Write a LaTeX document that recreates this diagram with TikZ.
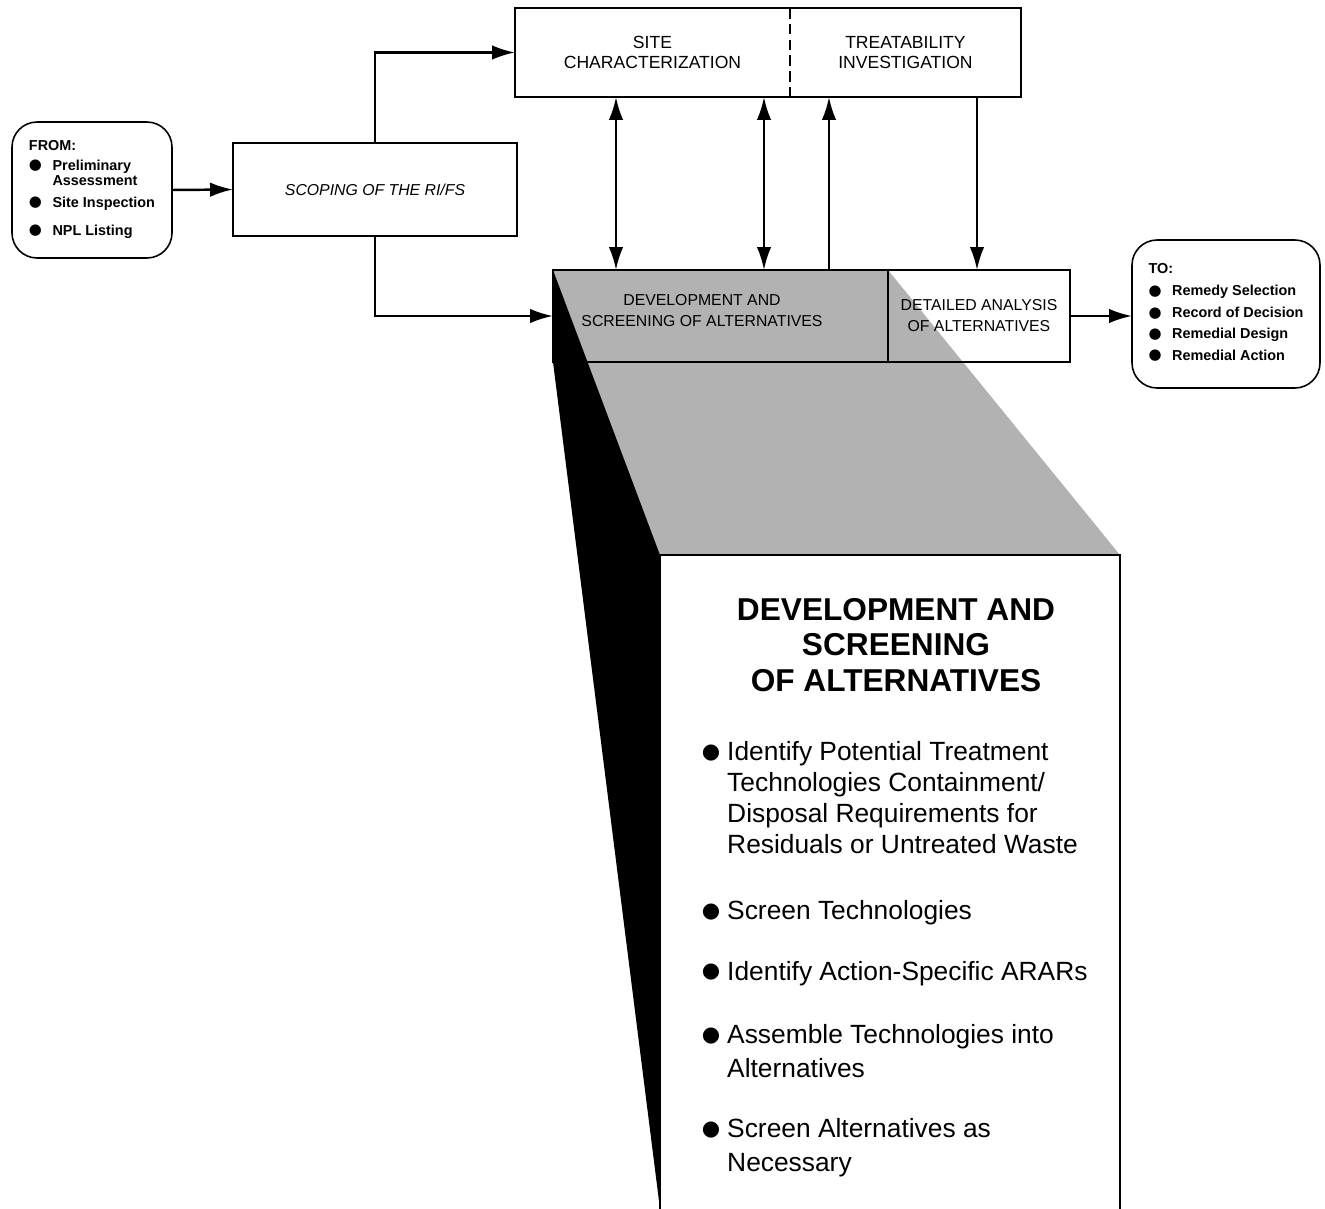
\documentclass[tikz,border=0pt]{standalone}
\usepackage{fontspec}
\setsansfont{Liberation Sans}
\newfontfamily\symfont{DejaVu Sans}
\usetikzlibrary{positioning}
\usetikzlibrary{arrows.meta}

\newcommand{\bigdot}{\raisebox{1.2pt}{\symfont\fontsize{12}{12}\selectfont ●}}
\newcommand{\smalldot}{\raisebox{0.4pt}{\symfont\fontsize{8.5}{8.5}\selectfont ●}}

\begin{document}
\begin{tikzpicture}[x=0.02cm,y=-0.02cm,>={Latex[length=4.6mm,width=2.9mm]},font=\sffamily,line width=0.9pt,
	box/.style={draw=black,minimum height=1.84cm,outer sep=0pt,align=center},
	endbox/.style={draw=black,rounded corners=0.5cm,outer sep=0pt},
	listtxt/.style={font=\sffamily\bfseries\fontsize{8.2}{8.5}\selectfont},
	boxtxt/.style={font=\sffamily\fontsize{9}{11.9}\selectfont},
	conn/.style={line width=1.4pt}]
	\useasboundingbox (0,0) rectangle (1325,1209);

	% shaded top of the block
	\fill[black!30] (553,270) -- (888,270) -- (1120,555) -- (660,555) -- cycle;

	\node [endbox,minimum width=3.2cm,minimum height=2.72cm,listtxt] at (92,190) (from) {\begin{tabular}{@{}c@{\hspace{6pt}}l@{}}
		\multicolumn{2}{@{}l}{FROM:}\\[2.8pt]
		\smalldot & Preliminary\\
		& Assessment\\[4pt]
		\smalldot & Site Inspection\\[7.4pt]
		\smalldot & NPL Listing
	\end{tabular}};
	\node [box,minimum width=5.68cm,minimum height=1.86cm,font=\sffamily\itshape\fontsize{9}{11}\selectfont] at (375,189.5) (scope) {SCOPING OF THE RI/FS};

	\node [minimum width=5.5cm,minimum height=1.78cm,outer sep=0pt,align=center,font=\sffamily\fontsize{10}{11.3}\selectfont] at (652.5,52.5) (sitec) {SITE\\CHARACTERIZATION};
	\node [minimum width=4.62cm,minimum height=1.78cm,outer sep=0pt,align=center,font=\sffamily\fontsize{10}{11.3}\selectfont,right=0pt of sitec] (treat) {TREATABILITY\\INVESTIGATION};
	\draw (sitec.north west) rectangle (treat.south east);
	\draw[dash pattern=on 6pt off 3pt] (sitec.north east) -- (sitec.south east);

	\node [box,minimum width=6.7cm] at (720.5,316) (dev) {};
	\node [boxtxt,align=center] at (702,311) (devtxt) {DEVELOPMENT AND\\SCREENING OF ALTERNATIVES};
	\node [box,minimum width=3.64cm,boxtxt,right=0pt of dev] (detail) {DETAILED ANALYSIS\\OF ALTERNATIVES};

	\node [endbox,minimum width=3.76cm,minimum height=2.96cm,listtxt] at (1226,314) (to) {\begin{tabular}{@{}c@{\hspace{6pt}}l@{}}
		\multicolumn{2}{@{}l}{TO:}\\[4pt]
		\smalldot & Remedy Selection\\[4pt]
		\smalldot & Record of Decision\\[3.5pt]
		\smalldot & Remedial Design\\[3.5pt]
		\smalldot & Remedial Action
	\end{tabular}};

	% dark side of the block
	\fill[black] (553,270) -- (660,555) -- (660,1209) -- (553,362) -- cycle;
	% front of the block
	\draw (660,1209) -- (660,555) -- (1120,555) -- (1120,1209);

	\node [font=\sffamily\bfseries\fontsize{18}{20}\selectfont,align=center] at (896,645) (head) {DEVELOPMENT AND\\SCREENING\\OF ALTERNATIVES};
	\node [anchor=north west,inner sep=0pt,font=\sffamily\fontsize{15}{17.6}\selectfont] at (701,738) (steps) {\begin{tabular}{@{}c@{\hspace{4pt}}l@{}}
		\bigdot & Identify Potential Treatment\\
		& Technologies Containment/\\
		& Disposal Requirements for\\
		& Residuals or Untreated Waste\\[20pt]
		\bigdot & Screen Technologies\\[17pt]
		\bigdot & Identify Action-Specific ARARs\\[18.5pt]
		\bigdot & Assemble Technologies into\\[1.7pt]
		& Alternatives\\[16.5pt]
		\bigdot & Screen Alternatives as\\[1.7pt]
		& Necessary
	\end{tabular}};

	\coordinate (a1) at (616,0);
	\coordinate (a2) at (764,0);
	\coordinate (a3) at (829,0);
	\coordinate (a4) at (977,0);

	\draw[->,conn] (from.east) -- (scope.west);
	\draw[->,conn] (scope.north) |- (sitec.west);
	\draw[->,conn] (scope.south) |- (dev.west);
	\draw[<->,conn] (a1 |- dev.north) -- (a1 |- sitec.south);
	\draw[<->,conn] (a2 |- dev.north) -- (a2 |- sitec.south);
	\draw[->,conn] (a3 |- dev.north) -- (a3 |- treat.south);
	\draw[->,conn] (a4 |- treat.south) -- (a4 |- detail.north);
	\draw[->,conn] (detail.east) -- (detail.east -| to.west);
\end{tikzpicture}
\end{document}
